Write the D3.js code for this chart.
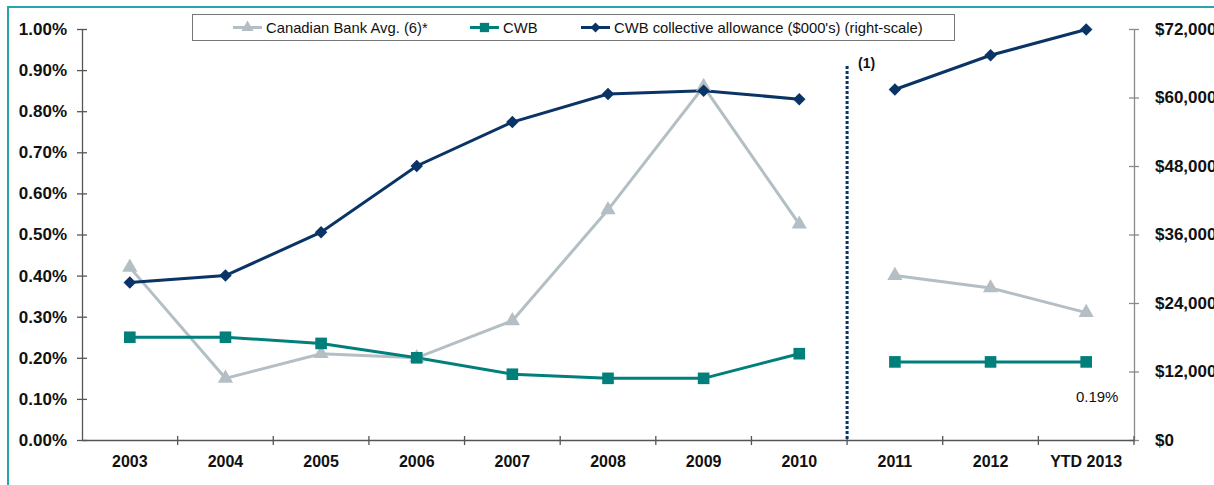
<!DOCTYPE html>
<html>
<head>
<meta charset="utf-8">
<script src="https://cdn.jsdelivr.net/npm/d3@7"></script>
<style>
  body { margin: 0; background: #fff; overflow: hidden; }
  svg { display: block; font-family: "Liberation Sans", Arial, sans-serif; }
</style>
</head>
<body>
<div id="chart"></div>
<script>
// data
var years      = ["2003", "2004", "2005", "2006", "2007", "2008", "2009", "2010", "2011", "2012", "YTD 2013"];
var bank_avg   = [0.42, 0.15, 0.21, 0.20, 0.29, 0.56, 0.86, 0.525, 0.40, 0.37, 0.31];
var cwb        = [0.25, 0.25, 0.235, 0.20, 0.16, 0.15, 0.15, 0.21, 0.19, 0.19, 0.19];
var allowance  = [27600, 28800, 36400, 48000, 55700, 60600, 61200, 59700, 61400, 67400, 71900];
var left_ticks  = [0, 0.1, 0.2, 0.3, 0.4, 0.5, 0.6, 0.7, 0.8, 0.9, 1.0];
var right_ticks = [0, 12000, 24000, 36000, 48000, 60000, 72000];
var break_after = "2010";
var last_label  = "0.19%";

var chart_width = 1214, chart_height = 485;
var plot_left = 82, plot_right = 1134, plot_top = 29, plot_bottom = 440;

var colors = { bank: "#b3bfc5", cwb: "#007f7b", allow: "#0a3466" };

var svg = d3.select("#chart").append("svg")
    .attr("width", chart_width)
    .attr("height", chart_height);

// frame lines
svg.append("line").attr("x1", 8).attr("x2", 8).attr("y1", 7).attr("y2", chart_height)
    .attr("stroke", "#2aa3aa").attr("stroke-width", 2);
svg.append("line").attr("x1", 7).attr("x2", chart_width).attr("y1", 7).attr("y2", 7)
    .attr("stroke", "#2aa3aa").attr("stroke-width", 2);

// scales
var x_scale = d3.scaleBand().domain(years).range([plot_left, plot_right]).padding(0);
var y_left  = d3.scaleLinear().domain([0, 1.0]).range([plot_bottom, plot_top]);
var y_right = d3.scaleLinear().domain([0, 72000]).range([plot_bottom, plot_top]);
var cx = function(i) { return x_scale(years[i]) + x_scale.bandwidth() / 2; };

// axes
var y_axis = d3.axisLeft(y_left)
    .tickValues(left_ticks)
    .tickSizeInner(5).tickSizeOuter(0)
    .tickFormat(function(d) { return d.toFixed(2) + "%"; });
var ya = svg.append("g").attr("transform", "translate(" + plot_left + ",0)").call(y_axis);

var y2_axis = d3.axisRight(y_right)
    .tickValues(right_ticks)
    .tickSizeInner(5).tickSizeOuter(0)
    .tickFormat(function(d) { return "$" + d3.format(",")(d); });
var yb = svg.append("g").attr("transform", "translate(" + plot_right + ",0)").call(y2_axis);

[ya, yb].forEach(function(g, k) {
    g.select(".domain").attr("stroke", k ? "#8a8a8a" : "#555").attr("stroke-width", 1.3);
    g.selectAll(".tick line").attr("stroke", k ? "#8a8a8a" : "#555").attr("stroke-width", 1.3)
        .attr("x1", -5).attr("x2", 5);
    g.selectAll(".tick text")
        .attr("font-size", 17).attr("font-weight", "bold").attr("fill", "#111")
        .attr("font-family", "Liberation Sans, Arial, sans-serif");
});
ya.selectAll(".tick text").attr("x", -15);
yb.selectAll(".tick text").attr("x", 21);

var x_axis = d3.axisBottom(x_scale).tickSize(0).tickSizeOuter(0);
var xa = svg.append("g").attr("transform", "translate(0," + plot_bottom + ")").call(x_axis);
xa.select(".domain").attr("stroke", "#555").attr("stroke-width", 1.3);
xa.selectAll(".tick text")
    .attr("y", 16).attr("dy", "0.71em")
    .attr("font-size", 16).attr("font-weight", "bold").attr("fill", "#111")
    .attr("font-family", "Liberation Sans, Arial, sans-serif");
// boundary ticks between categories
xa.selectAll("line.bound")
    .data(years.slice(1).concat(["end"]))
    .enter().append("line")
    .attr("class", "bound")
    .attr("x1", function(d, i) { return x_scale(years[0]) + (i + 1) * x_scale.step(); })
    .attr("x2", function(d, i) { return x_scale(years[0]) + (i + 1) * x_scale.step(); })
    .attr("y1", -4).attr("y2", 5)
    .attr("stroke", "#555").attr("stroke-width", 1.3);

// dotted separator
var sep_x = x_scale(break_after) + x_scale.step();
svg.append("line")
    .attr("x1", sep_x).attr("x2", sep_x)
    .attr("y1", 66).attr("y2", plot_bottom)
    .attr("stroke", colors.allow).attr("stroke-width", 3)
    .attr("stroke-dasharray", "3,2");
svg.append("text").attr("x", sep_x + 11).attr("y", 68)
    .attr("font-size", 14).attr("font-weight", "bold").attr("fill", "#111")
    .text("(1)");

// split index into the two periods
var split = years.indexOf(break_after) + 1;
var groups = [d3.range(0, split), d3.range(split, years.length)];

function draw_series(values, scale, color) {
    var line = d3.line()
        .x(function(i) { return cx(i); })
        .y(function(i) { return scale(values[i]); });
    groups.forEach(function(g) {
        svg.append("path")
            .datum(g)
            .attr("fill", "none")
            .attr("stroke", color)
            .attr("stroke-width", 3)
            .attr("d", line);
    });
}

draw_series(bank_avg, y_left, colors.bank);
draw_series(cwb, y_left, colors.cwb);
draw_series(allowance, y_right, colors.allow);

var idx = d3.range(years.length);
var tri = d3.symbol().type(d3.symbolTriangle).size(100);
var sq  = d3.symbol().type(d3.symbolSquare).size(135);
// square turned 45 degrees, like the reference's diamond
var dia = d3.symbol().type(d3.symbolSquare).size(78);

svg.append("g").selectAll("path").data(idx).enter().append("path")
    .attr("d", tri)
    .attr("transform", function(i) { return "translate(" + cx(i) + "," + y_left(bank_avg[i]) + ")"; })
    .attr("fill", colors.bank);
svg.append("g").selectAll("path").data(idx).enter().append("path")
    .attr("d", sq)
    .attr("transform", function(i) { return "translate(" + cx(i) + "," + y_left(cwb[i]) + ")"; })
    .attr("fill", colors.cwb);
svg.append("g").selectAll("path").data(idx).enter().append("path")
    .attr("d", dia)
    .attr("transform", function(i) { return "translate(" + cx(i) + "," + y_right(allowance[i]) + ") rotate(45)"; })
    .attr("fill", colors.allow);

// label under the last CWB point
var li = years.length - 1;
svg.append("text")
    .attr("x", cx(li) + 11).attr("y", y_left(cwb[li]) + 40)
    .attr("text-anchor", "middle")
    .attr("font-size", 15).attr("fill", "#111")
    .text(last_label);

// legend
var legend = svg.append("g");
legend.append("rect")
    .attr("x", 192.5).attr("y", 14.5).attr("width", 762).attr("height", 26)
    .attr("fill", "#fff").attr("stroke", "#777").attr("stroke-width", 1);

var legend_items = [
    { name: "Canadian Bank Avg. (6)*", color: colors.bank, sym: tri, rot: 0, x: 233 },
    { name: "CWB", color: colors.cwb, sym: sq, rot: 0, x: 470 },
    { name: "CWB collective allowance ($000's) (right-scale)", color: colors.allow, sym: dia, rot: 45, x: 581 }
];
legend_items.forEach(function(d) {
    legend.append("line")
        .attr("x1", d.x).attr("x2", d.x + 29).attr("y1", 27.5).attr("y2", 27.5)
        .attr("stroke", d.color).attr("stroke-width", 3);
    legend.append("path")
        .attr("d", d.sym)
        .attr("transform", "translate(" + (d.x + 14.5) + ",27.5) scale(0.8) rotate(" + d.rot + ")")
        .attr("fill", d.color);
    legend.append("text")
        .attr("x", d.x + 33).attr("y", 32.5)
        .attr("font-size", 14.8).attr("fill", "#111")
        .attr("textLength", null)
        .text(d.name);
});
</script>
</body>
</html>
